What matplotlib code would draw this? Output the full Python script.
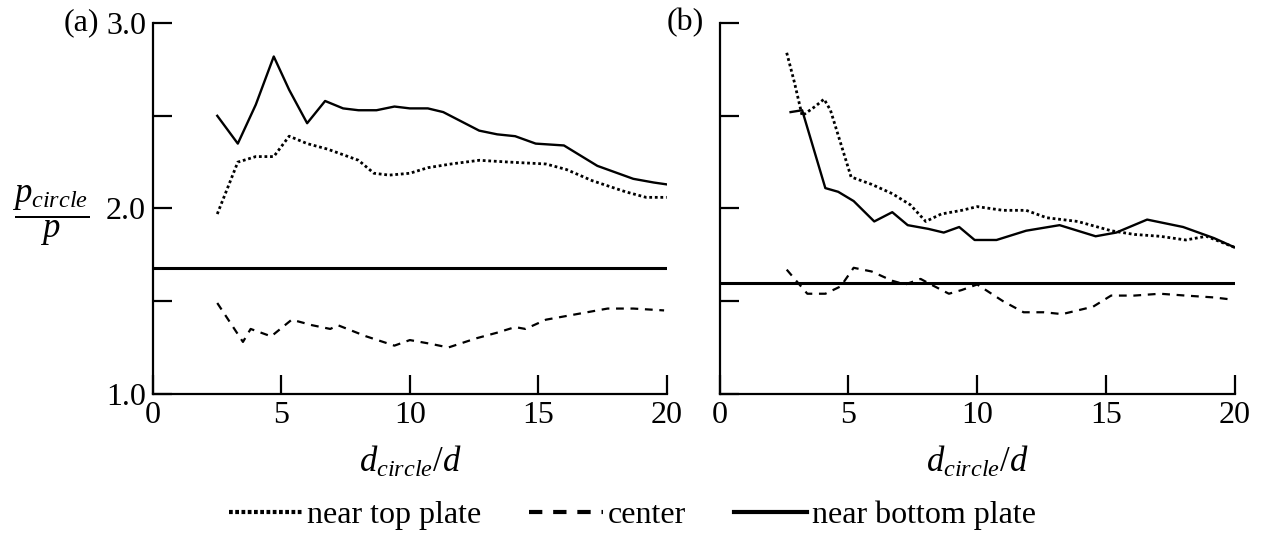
import numpy as np
import matplotlib
matplotlib.use("Agg")
import matplotlib.pyplot as plt
from matplotlib.lines import Line2D

plt.rcParams["font.family"] = "Liberation Serif"
plt.rcParams["mathtext.fontset"] = "custom"
plt.rcParams["mathtext.rm"] = "Liberation Serif"
plt.rcParams["mathtext.it"] = "Liberation Serif:italic"

# panel (a)
a_top_x = [2.5, 3.3, 4.0, 4.7, 5.3, 6.0, 6.8, 7.4, 8.0, 8.6, 9.2, 10.0, 10.7,
           11.6, 12.7, 13.9, 15.3, 16.1, 17.1, 18.4, 19.2, 20.0]
a_top_y = [1.97, 2.25, 2.28, 2.28, 2.39, 2.35, 2.32, 2.29, 2.26, 2.19, 2.18,
           2.19, 2.22, 2.24, 2.26, 2.25, 2.24, 2.21, 2.15, 2.09, 2.06, 2.06]
a_center_x = [2.5, 3.5, 3.8, 4.6, 5.4, 6.2, 6.9, 7.2, 8.3, 9.4, 10.0, 10.8,
              11.5, 12.6, 13.4, 14.1, 14.5, 15.3, 16.1, 16.9, 17.7, 18.7, 19.9]
a_center_y = [1.49, 1.28, 1.35, 1.31, 1.40, 1.37, 1.35, 1.37, 1.31, 1.26, 1.29,
              1.27, 1.25, 1.30, 1.33, 1.36, 1.35, 1.40, 1.42, 1.44, 1.46, 1.46, 1.45]
a_bottom_x = [2.5, 3.3, 4.0, 4.7, 5.3, 6.0, 6.7, 7.4, 8.0, 8.7, 9.4, 10.0, 10.7,
              11.3, 12.7, 13.4, 14.1, 14.9, 16.0, 17.3, 17.9, 18.7, 19.5, 20.0]
a_bottom_y = [2.50, 2.35, 2.56, 2.82, 2.64, 2.46, 2.58, 2.54, 2.53, 2.53, 2.55,
              2.54, 2.54, 2.52, 2.42, 2.40, 2.39, 2.35, 2.34, 2.23, 2.20, 2.16,
              2.14, 2.13]
a_ref = 1.68

# panel (b)
b_top_x = [2.6, 2.9, 3.2, 3.7, 4.05, 4.3, 4.7, 5.1, 5.9, 6.7, 7.4, 8.0, 8.6,
           9.4, 10.0, 11.0, 11.9, 12.7, 13.9, 15.2, 16.1, 17.1, 18.1, 18.9, 20.0]
b_top_y = [2.84, 2.68, 2.50, 2.55, 2.59, 2.53, 2.35, 2.17, 2.13, 2.08, 2.02,
           1.93, 1.97, 1.99, 2.01, 1.99, 1.99, 1.95, 1.93, 1.88, 1.86, 1.85,
           1.83, 1.85, 1.79]
b_center_x = [2.6, 3.4, 4.1, 4.7, 5.2, 5.9, 6.7, 7.2, 7.8, 8.2, 8.9, 9.4, 10.0,
              11.0, 11.8, 12.6, 13.3, 14.5, 15.2, 16.1, 17.1, 18.1, 19.2, 19.8]
b_center_y = [1.67, 1.54, 1.54, 1.58, 1.68, 1.66, 1.61, 1.59, 1.62, 1.59, 1.54,
              1.56, 1.59, 1.50, 1.44, 1.44, 1.43, 1.47, 1.53, 1.53, 1.54, 1.53,
              1.52, 1.51]
b_bottom_x = [2.75, 3.2, 4.1, 4.6, 5.2, 6.0, 6.7, 7.3, 8.1, 8.7, 9.3, 9.9,
              10.75, 11.9, 13.2, 14.6, 15.4, 16.6, 18.0, 19.2, 20.0]
b_bottom_y = [2.52, 2.53, 2.11, 2.09, 2.04, 1.93, 1.98, 1.91, 1.89, 1.87, 1.90,
              1.83, 1.83, 1.88, 1.91, 1.85, 1.87, 1.94, 1.90, 1.84, 1.79]
b_ref = 1.60

x_ticks = [0, 5, 10, 15, 20]
y_ticks = [1.0, 1.5, 2.0, 2.5, 3.0]
y_labels = ["1.0", "", "2.0", "", "3.0"]

DOT = (0, (1, 1))
DASH = (0, (3.5, 3))
FS = 23


def style_axes(ax, show_ylabels):
    ax.set_xlim(0, 20)
    ax.set_ylim(1.0, 3.0)
    for side in ("top", "right"):
        ax.spines[side].set_visible(False)
    for side in ("left", "bottom"):
        ax.spines[side].set_linewidth(1.6)
    ax.set_xticks(x_ticks)
    ax.set_xticklabels([str(t) for t in x_ticks])
    ax.set_yticks(y_ticks)
    ax.set_yticklabels(y_labels if show_ylabels else [""] * len(y_ticks))
    ax.tick_params(direction="in", length=14, width=1.6, labelsize=FS, pad=5)
    ax.set_xlabel(r"$d_{circle}/d$", fontsize=FS + 2, labelpad=11)


fig = plt.figure(figsize=(12.65, 5.38), dpi=100)
ax_a = fig.add_axes([0.121, 0.268, 0.406, 0.689])
ax_b = fig.add_axes([0.569, 0.268, 0.407, 0.689])

panels = [
    (ax_a, a_top_x, a_top_y, a_center_x, a_center_y, a_bottom_x, a_bottom_y, a_ref),
    (ax_b, b_top_x, b_top_y, b_center_x, b_center_y, b_bottom_x, b_bottom_y, b_ref),
]
for ax, tx, ty, cx, cy, bx, by, ref in panels:
    ax.axhline(ref, color="black", lw=2.2)
    ax.plot(tx, ty, color="black", lw=2.0, linestyle=DOT)
    ax.plot(cx, cy, color="black", lw=1.6, linestyle=DASH)
    ax.plot(bx, by, color="black", lw=1.7)

style_axes(ax_a, True)
style_axes(ax_b, False)

fig.text(0.050, 0.958, "(a)", fontsize=FS, ha="left", va="center")
fig.text(0.527, 0.958, "(b)", fontsize=FS, ha="left", va="center")
fig.text(0.040, 0.600, r"$\dfrac{p_{circle}}{p}$", fontsize=FS + 2,
         ha="center", va="center")

handles = [
    Line2D([], [], color="black", lw=3.0, linestyle=(0, (0.9, 0.6))),
    Line2D([], [], color="black", lw=3.0, linestyle=(0, (3.2, 2.6))),
    Line2D([], [], color="black", lw=3.0),
]
fig.legend(handles, ["near top plate", "center", "near bottom plate"],
           loc="center", bbox_to_anchor=(0.5, 0.042), ncol=3, frameon=False,
           fontsize=FS, handlelength=2.3, handletextpad=0.15, columnspacing=1.5)

fig.savefig("out.png", dpi=100)
